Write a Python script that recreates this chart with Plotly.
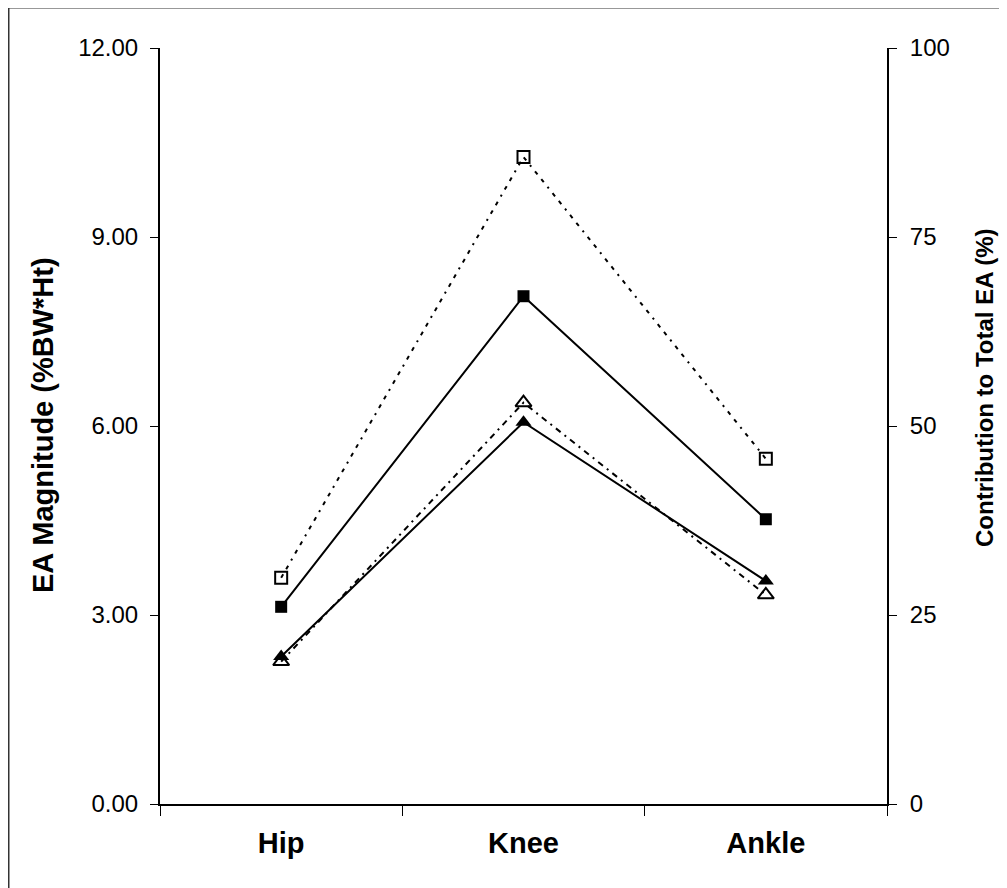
import plotly.graph_objects as go

joints = ["Hip", "Knee", "Ankle"]
filled_square = [3.13, 8.06, 4.52]
open_square = [3.59, 10.27, 5.48]
filled_triangle = [2.34, 6.06, 3.54]
open_triangle = [2.26, 6.37, 3.32]

left_ticks = [0, 3, 6, 9, 12]
left_labels = ["0.00", "3.00", "6.00", "9.00", "12.00"]
right_ticks = [0, 25, 50, 75, 100]

FONT = "Liberation Sans, Arial, sans-serif"

# page body has an 8px margin; plot area in screen px: x 160-887, y 48-804
W, H = 999, 880
L, T = 152, 40
PW, PH = 727, 756


def px(xs):
    return (xs - 8 - L) / PW


def py(ys):
    return 1 - (ys - 8 - T) / PH


fig = go.Figure()

fig.add_trace(go.Scatter(
    x=joints, y=open_square, mode="lines+markers",
    line=dict(color="black", width=2, dash="4px,6px,4px,6px,2px,6px"),
    marker=dict(symbol="square-open", size=12, color="black", line=dict(width=2, color="black")),
    showlegend=False))
fig.add_trace(go.Scatter(
    x=joints, y=filled_square, mode="lines+markers",
    line=dict(color="black", width=2),
    marker=dict(symbol="square", size=12, color="black"),
    showlegend=False))
fig.add_trace(go.Scatter(
    x=joints, y=open_triangle, mode="lines+markers",
    line=dict(color="black", width=2, dash="6px,5px,2px,5px"),
    marker=dict(symbol="triangle-up-open", size=14, color="black", line=dict(width=2, color="black")),
    showlegend=False))
fig.add_trace(go.Scatter(
    x=joints, y=filled_triangle, mode="lines+markers",
    line=dict(color="black", width=2),
    marker=dict(symbol="triangle-up", size=14, color="black"),
    showlegend=False))
fig.add_trace(go.Scatter(x=joints, y=[None, None, None], yaxis="y2",
                         mode="lines", showlegend=False, hoverinfo="skip"))

fig.update_layout(
    width=W, height=H,
    margin=dict(l=L, r=W - L - PW, t=T, b=H - T - PH, autoexpand=False),
    paper_bgcolor="white", plot_bgcolor="white",
    font=dict(family=FONT, size=24, color="black"),
    xaxis=dict(
        type="category", range=[-0.5, 2.5], tickson="boundaries",
        ticks="outside", ticklen=10, tickwidth=1, tickcolor="black",
        showline=True, linecolor="black", linewidth=2,
        showgrid=False, zeroline=False, ticklabelstandoff=12,
        tickfont=dict(family=FONT, size=29, color="black", weight="bold"),
    ),
    yaxis=dict(
        range=[0, 12], tickvals=left_ticks, ticktext=left_labels,
        ticks="outside", ticklen=8, tickwidth=1, tickcolor="black",
        showline=True, linecolor="black", linewidth=2,
        showgrid=False, zeroline=False, ticklabelstandoff=7,
        tickfont=dict(family=FONT, size=24, color="black"),
    ),
    yaxis2=dict(
        overlaying="y", side="right", range=[0, 100], tickvals=right_ticks,
        ticks="outside", ticklen=8, tickwidth=1, tickcolor="black",
        showline=True, linecolor="black", linewidth=2,
        showgrid=False, zeroline=False, ticklabelstandoff=8,
        tickfont=dict(family=FONT, size=24, color="black"),
    ),
    annotations=[
        dict(text="<b>EA Magnitude (%BW*Ht)</b>", textangle=-90,
             xref="paper", yref="paper", x=px(43), y=py(425),
             xanchor="center", yanchor="middle", showarrow=False,
             font=dict(family=FONT, size=29, color="black")),
        dict(text="<b>Contribution to Total EA (%)</b>", textangle=-90,
             xref="paper", yref="paper", x=px(984), y=py(388),
             xanchor="center", yanchor="middle", showarrow=False,
             font=dict(family=FONT, size=24, color="black")),
    ],
    shapes=[dict(type="rect", xref="paper", yref="paper",
                 x0=px(8.5), x1=1.3, y0=-0.3, y1=py(7.5),
                 line=dict(color="#333333", width=2), layer="below")],
)

fig.write_html("out.html")
